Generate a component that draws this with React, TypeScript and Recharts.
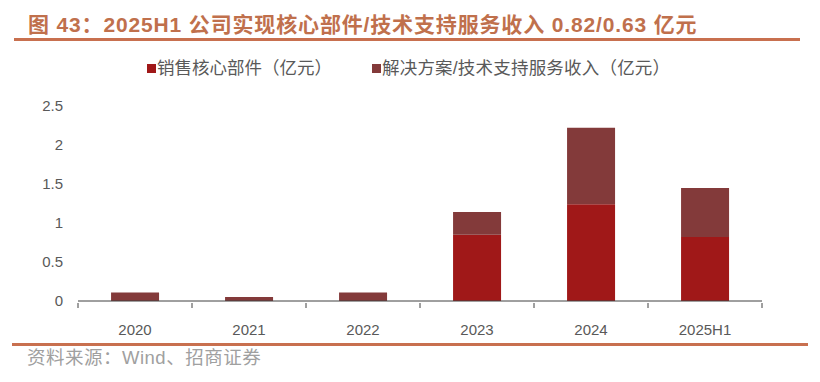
import React from "react";
import { BarChart, Bar, XAxis, YAxis } from "recharts";

const categories = ["2020", "2021", "2022", "2023", "2024", "2025H1"];
const coreParts = [0, 0, 0, 0.85, 1.24, 0.82];
const solutions = [0.11, 0.05, 0.11, 0.29, 0.98, 0.63];
const yTicks = [0, 0.5, 1, 1.5, 2, 2.5];

const seriesNames = ["销售核心部件（亿元）", "解决方案/技术支持服务收入（亿元）"];
const colors = ["#A01818", "#833A3A"];

const data = categories.map((c, i) => ({ name: c, core: coreParts[i], sol: solutions[i] }));

const FONT = "'Liberation Sans', Arial, 'Noto Sans CJK SC', sans-serif";
const CJK = "'Liberation Sans', 'Noto Sans CJK SC', sans-serif";

const XTick = (props: any) => {
  const { x, y, payload, index } = props;
  const half = 57;
  return (
    <g>
      <line x1={x - half} x2={x - half} y1={y - 1} y2={y - 6} stroke="#404040" strokeWidth={1} />
      {index === categories.length - 1 && (
        <line x1={x + half} x2={x + half} y1={y - 1} y2={y - 6} stroke="#404040" strokeWidth={1} />
      )}
      <text x={x} y={y + 26} textAnchor="middle" fill="#595959" fontSize={15} fontFamily={FONT}>
        {payload.value}
      </text>
    </g>
  );
};

export default function App() {
  return (
    <div style={{ position: "absolute", left: 0, top: 0, width: 820, height: 382, background: "#fff" }}>
      <div
        style={{
          position: "absolute",
          left: 28,
          top: 12,
          lineHeight: "26px",
          fontFamily: CJK,
          fontWeight: "bold",
          fontSize: 21,
          letterSpacing: 0.85,
          color: "#C0704C",
          whiteSpace: "nowrap",
        }}
      >
        图 43：2025H1 公司实现核心部件/技术支持服务收入 0.82/0.63 亿元
      </div>
      <div style={{ position: "absolute", left: 14, top: 38, width: 786, height: 3, background: "#C8704F" }} />
      <div
        style={{
          position: "absolute",
          left: 147,
          top: 57,
          display: "flex",
          fontFamily: CJK,
          fontSize: 17.5,
          lineHeight: "22px",
          color: "#595959",
          whiteSpace: "nowrap",
        }}
      >
        {seriesNames.map((n, i) => (
          <div key={n} style={{ display: "flex", alignItems: "center", marginRight: i === 0 ? 40 : 0 }}>
            <span style={{ display: "inline-block", width: 9, height: 9, background: colors[i], marginRight: 1 }} />
            <span style={{ fontSize: i === 0 ? 17.5 : 17.5, letterSpacing: i === 0 ? 0 : 0.2 }}>{n}</span>
          </div>
        ))}
      </div>
      <div style={{ position: "absolute", left: 0, top: 0 }}>
        <BarChart
          width={820}
          height={340}
          data={data}
          margin={{ top: 106, right: 58, bottom: 9, left: 0 }}
          barCategoryGap="29%"
        >
          <XAxis
            dataKey="name"
            axisLine={{ stroke: "#404040", strokeWidth: 1 }}
            tickLine={false}
            tick={<XTick />}
            height={30}
            interval={0}
          />
          <YAxis
            domain={[0, 2.5]}
            ticks={yTicks}
            axisLine={false}
            tickLine={false}
            tickSize={0}
            tickMargin={15}
            width={78}
            tick={{ fill: "#595959", fontSize: 15, fontFamily: FONT }}
          />
          <Bar dataKey="core" stackId="a" fill={colors[0]} name={seriesNames[0]} isAnimationActive={false} />
          <Bar dataKey="sol" stackId="a" fill={colors[1]} name={seriesNames[1]} isAnimationActive={false} />
        </BarChart>
      </div>
      <div style={{ position: "absolute", left: 12, top: 343, width: 796, height: 3, background: "#C8704F" }} />
      <div
        style={{
          position: "absolute",
          left: 27,
          top: 347,
          lineHeight: "22px",
          fontFamily: CJK,
          fontSize: 18.5,
          letterSpacing: 0.5,
          color: "#A0A0A0",
          whiteSpace: "nowrap",
        }}
      >
        资料来源：Wind、招商证券
      </div>
    </div>
  );
}
